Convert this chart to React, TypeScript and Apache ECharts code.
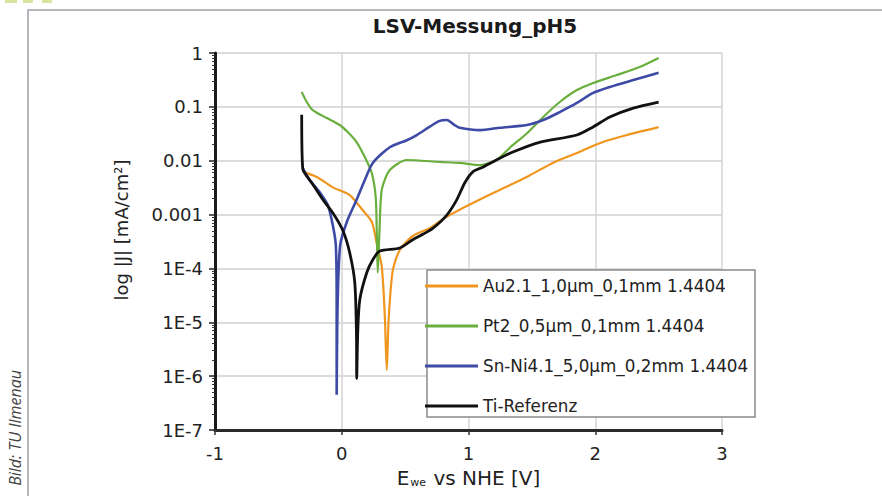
import React, { useEffect, useRef } from 'react';
import * as echarts from 'echarts';

const chartTitle = 'LSV-Messung_pH5';
const xAxisTitle = '{e|E}{s|we}{n| vs NHE [V]}';
const yAxisTitle = 'log |J| [mA/cm²]';
const seriesNames = [
  'Au2.1_1,0µm_0,1mm 1.4404',
  'Pt2_0,5µm_0,1mm 1.4404',
  'Sn-Ni4.1_5,0µm_0,2mm 1.4404',
  'Ti-Referenz',
];
const seriesColors = ['#f0961f', '#6aaf3d', '#3d4aa6', '#111111'];
const yTickLabels = ['1', '0.1', '0.01', '0.001', '1E-4', '1E-5', '1E-6', '1E-7'];

// [E vs NHE (V), |J| (mA/cm²)]
const auData: [number, number][] = [
  [-0.308, 0.0062], [-0.197, 0.005], [-0.071, 0.0032], [0.063, 0.0023], [0.166, 0.0012],
  [0.237, 7.3e-4], [0.276, 2.95e-4], [0.316, 1.07e-4], [0.34, 1.26e-5], [0.355, 1.3e-6],
  [0.371, 1.26e-5], [0.403, 9.3e-5], [0.458, 2.2e-4], [0.56, 4.0e-4], [0.695, 5.6e-4],
  [0.813, 8.7e-4], [0.93, 0.00123], [1.09, 0.0019], [1.25, 0.0029], [1.46, 0.005],
  [1.665, 0.0091], [1.855, 0.0139], [2.04, 0.0214], [2.25, 0.03], [2.5, 0.042],
];
const ptData: [number, number][] = [
  [-0.316, 0.19], [-0.276, 0.123], [-0.229, 0.087], [-0.118, 0.062], [-0.016, 0.046],
  [0.047, 0.034], [0.118, 0.022], [0.182, 0.0117], [0.237, 0.0059], [0.268, 0.0021],
  [0.276, 5.1e-4], [0.284, 8.3e-5], [0.298, 5.1e-4], [0.316, 0.0029], [0.379, 0.0067],
  [0.513, 0.0103], [0.773, 0.0095], [0.93, 0.0091], [1.09, 0.0083], [1.22, 0.0103],
  [1.33, 0.0178], [1.46, 0.032], [1.59, 0.065], [1.72, 0.123], [1.855, 0.205],
  [1.98, 0.275], [2.17, 0.39], [2.35, 0.55], [2.5, 0.81],
];
const snData: [number, number][] = [
  [-0.308, 0.0073], [-0.253, 0.0044], [-0.174, 0.0026], [-0.11, 0.0015], [-0.071, 6.4e-4],
  [-0.047, 2.75e-4], [-0.04, 2.6e-5], [-0.04, 4.5e-7], [-0.032, 2.6e-5], [-0.012, 2.75e-4],
  [0.04, 7.3e-4], [0.118, 0.0019], [0.182, 0.0044], [0.245, 0.0091], [0.379, 0.0178],
  [0.513, 0.024], [0.592, 0.03], [0.695, 0.043], [0.773, 0.055], [0.829, 0.057],
  [0.89, 0.046], [0.93, 0.041], [1.09, 0.037], [1.25, 0.041], [1.46, 0.046],
  [1.59, 0.057], [1.72, 0.08], [1.855, 0.118], [1.98, 0.18], [2.115, 0.234],
  [2.3, 0.315], [2.5, 0.43],
];
const tiData: [number, number][] = [
  [-0.316, 0.071], [-0.308, 0.0072], [-0.23, 0.0037], [-0.15, 0.0019], [-0.07, 0.00107],
  [0.008, 5.1e-4], [0.063, 1.94e-4], [0.103, 5.4e-5], [0.116, 6.3e-6], [0.118, 9.0e-7],
  [0.126, 6.3e-6], [0.142, 2.6e-5], [0.197, 8.3e-5], [0.245, 1.45e-4], [0.3, 2.1e-4],
  [0.458, 2.4e-4], [0.56, 3.4e-4], [0.64, 4.3e-4], [0.72, 5.6e-4], [0.829, 9.8e-4],
  [0.908, 0.0019], [0.971, 0.0039], [1.034, 0.0062], [1.113, 0.0076], [1.19, 0.0095],
  [1.35, 0.0145], [1.56, 0.022], [1.855, 0.03], [1.98, 0.042], [2.115, 0.065],
  [2.3, 0.095], [2.5, 0.123],
];
const allData = [auData, ptData, snData, tiData];
const lineWidths = [2.2, 2.2, 2.6, 2.8];

const FONT = 'DejaVu Sans';

export default function App() {
  const ref = useRef<HTMLDivElement>(null);
  useEffect(() => {
    const chart = echarts.init(ref.current!, null, { renderer: 'svg' });
    chart.setOption({
      animation: false,
      backgroundColor: '#ffffff',
      title: {
        text: chartTitle,
        left: 470,
        textAlign: 'center',
        top: 11,
        textStyle: { fontFamily: FONT, fontSize: 20, fontWeight: 'bold', color: '#1a1a1a' },
      },
      grid: { left: 215, right: 160, top: 53, bottom: 66, outerBoundsMode: 'none', containLabel: false },
      legend: {
        orient: 'vertical',
        left: 420,
        top: 272,
        icon: 'rect',
        itemWidth: 53,
        itemHeight: 3,
        itemGap: 22,
        data: seriesNames,
        textStyle: { fontFamily: FONT, fontSize: 16.8, lineHeight: 18, color: '#222' },
      },
      xAxis: {
        type: 'value',
        min: -1,
        max: 3,
        interval: 1,
        name: xAxisTitle,
        nameLocation: 'middle',
        nameGap: 38,
        nameTextStyle: {
          rich: {
            e: { fontFamily: FONT, fontSize: 20, color: '#222' },
            s: { fontFamily: FONT, fontSize: 11, color: '#222', padding: [9, 1, 0, 1] },
            n: { fontFamily: FONT, fontSize: 20, color: '#222' },
          },
        },
        axisLine: { show: true, onZero: false, lineStyle: { color: '#2a2a2a', width: 3 } },
        axisTick: { show: true, length: 5, lineStyle: { color: '#333', width: 1.5 } },
        axisLabel: { margin: 14, fontFamily: FONT, fontSize: 18, color: '#222' },
        splitLine: { show: true, lineStyle: { color: '#d4d4d4', width: 1.5 } },
      },
      yAxis: {
        type: 'log',
        logBase: 10,
        min: 1e-7,
        max: 1,
        axisLine: { show: true, onZero: false, lineStyle: { color: '#1a1a1a', width: 3 } },
        axisTick: { show: true, length: 6, lineStyle: { color: '#222', width: 1.5 } },
        minorTick: { show: true, splitNumber: 9, length: 3, lineStyle: { color: '#333' } },
        axisLabel: {
          margin: 12,
          fontFamily: FONT,
          fontSize: 18,
          color: '#222',
          formatter: (v: number) => {
            const e = Math.round(Math.log10(v));
            return yTickLabels[-e] ?? '';
          },
        },
        splitLine: { show: true, lineStyle: { color: '#d0d0d0', width: 1.5 } },
      },
      graphic: [
        { type: 'rect', z: 0, silent: true, shape: { x: 28, y: 10, width: 1000, height: 1000 }, style: { fill: 'none', stroke: '#b4b8bc', lineWidth: 2 } },
        { type: 'rect', z: 0, silent: true, shape: { x: 5, y: -2, width: 12, height: 5 }, style: { fill: '#d6e5a0' } },
        { type: 'rect', z: 0, silent: true, shape: { x: 23, y: -2, width: 10, height: 5 }, style: { fill: '#d6e5a0' } },
        { type: 'rect', z: 0, silent: true, shape: { x: 42, y: -2, width: 10, height: 5 }, style: { fill: '#d6e5a0' } },
        {
          type: 'text', z: 5, silent: true, x: 15, y: 370, rotation: Math.PI / 2,
          style: { text: 'Bild: TU Ilmenau', fontFamily: 'Open Sans', fontStyle: 'italic', fontSize: 16, fill: '#444', align: 'right', verticalAlign: 'middle' },
        },
        {
          type: 'text', z: 5, silent: true, x: 121, y: 230, rotation: Math.PI / 2,
          style: { text: yAxisTitle, fontFamily: FONT, fontSize: 18, fill: '#222', align: 'center', verticalAlign: 'middle' },
        },
        { type: 'rect', z: 3, silent: true, shape: { x: 427, y: 270, width: 328, height: 147 }, style: { fill: '#ffffff', stroke: '#8a8a8a', lineWidth: 1.5 } },
      ],
      series: allData.map((d, i) => ({
        name: seriesNames[i],
        type: 'line',
        data: d,
        symbol: 'none',
        smooth: 0.25,
        z: 2 + i * 0.1,
        lineStyle: { color: seriesColors[i], width: lineWidths[i] },
        itemStyle: { color: seriesColors[i] },
      })),
    });
    return () => chart.dispose();
  }, []);
  return <div ref={ref} style={{ position: 'fixed', left: 0, top: 0, width: 882, height: 496, background: '#fff' }} />;
}
